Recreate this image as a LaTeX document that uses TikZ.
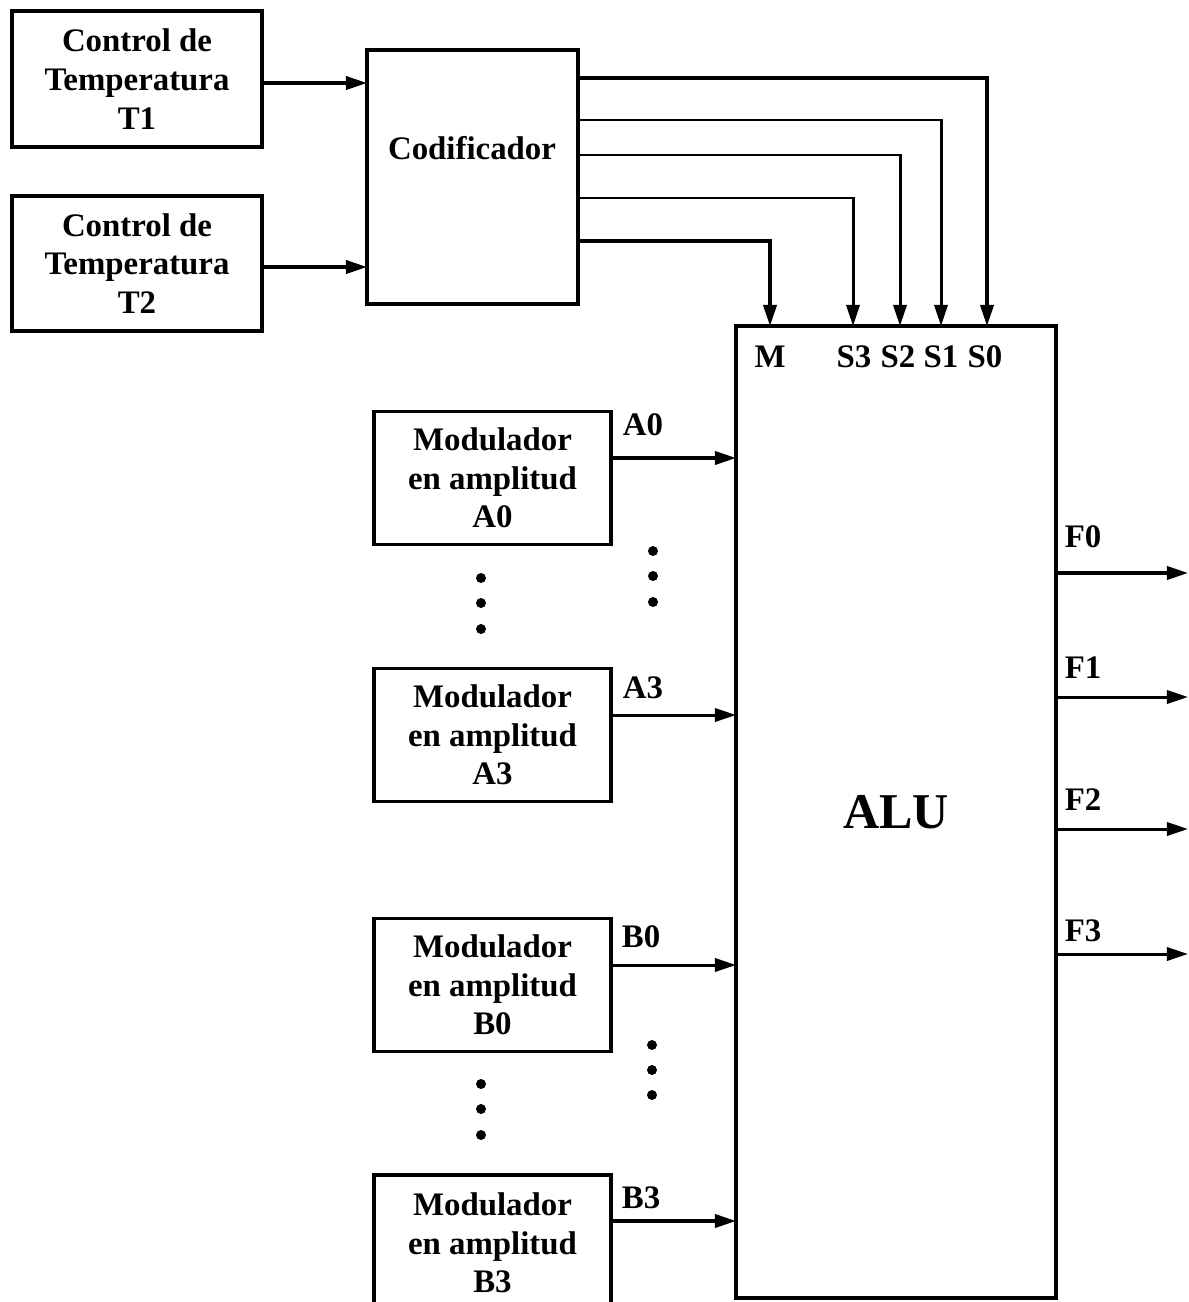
\documentclass[tikz,border=0pt]{standalone}
\usepackage{fontspec}
\setmainfont{Liberation Serif}
\usetikzlibrary{arrows.meta}
\begin{document}
\begin{tikzpicture}[x=0.02cm,y=-0.02cm,
  txt/.style={font=\fontsize{18.7}{22}\selectfont\bfseries, align=center, inner sep=0pt},
  blk/.style={draw, line width=2pt, inner sep=0pt, outer sep=0pt, txt},
  arr/.style={line width=1.9pt, -{Triangle[length=12pt,width=7.5pt]}},
  thin/.style={line width=1.7pt, -{Triangle[length=12pt,width=7.5pt]}},
  dot/.style={fill=black}]
\useasboundingbox (0,0) rectangle (1188,1302);
\clip (0,0) rectangle (1188,1302);
% blocks
\node[blk, minimum width={250*0.02cm}, minimum height={136*0.02cm}] (t1) at (137,79) {Control de\\Temperatura\\T1};
\node[blk, minimum width={250*0.02cm}, minimum height={135*0.02cm}] (t2) at (137,263.5) {Control de\\Temperatura\\T2};
\node[blk, minimum width={211*0.02cm}, minimum height={254*0.02cm}] (cod) at (472.5,177) {};
\node[txt] (codt) at (472,148) {Codificador};
\node[blk, minimum width={320*0.02cm}, minimum height={972*0.02cm}, font=\fontsize{28.5}{30}\selectfont\bfseries] (alu) at (896,812) {ALU};
\node[blk, minimum width={237*0.02cm}, minimum height={133*0.02cm}] (a0) at (492.5,478) {Modulador\\en amplitud\\A0};
\node[blk, minimum width={237*0.02cm}, minimum height={133*0.02cm}] (a3) at (492.5,735) {Modulador\\en amplitud\\A3};
\node[blk, minimum width={237*0.02cm}, minimum height={133*0.02cm}] (b0) at (492.5,985) {Modulador\\en amplitud\\B0};
\node[blk, minimum width={237*0.02cm}, minimum height={136*0.02cm}] (b3) at (492.5,1243) {Modulador\\en amplitud\\B3};
% inputs to coder
\draw[arr] (t1.east |- 0,83) -- (cod.west |- 0,83);
\draw[arr] (t2.east |- 0,267) -- (cod.west |- 0,267);
% coder to ALU
\draw[arr] (cod.east |- 0,78) -| (987,0 |- alu.north);
\draw[thin] (cod.east |- 0,120) -| (941,0 |- alu.north);
\draw[thin] (cod.east |- 0,155) -| (900,0 |- alu.north);
\draw[thin] (cod.east |- 0,198) -| (853,0 |- alu.north);
\draw[arr] (cod.east |- 0,241) -| (770,0 |- alu.north);
% ALU port labels
\node[txt] (lm) at (770,357) {M};
\node[txt] (ls3) at (854,357) {S3};
\node[txt] (ls2) at (898,357) {S2};
\node[txt] (ls1) at (941,357) {S1};
\node[txt] (ls0) at (985,357) {S0};
% modulators to ALU
\draw[arr] (a0.east |- 0,458) -- (alu.west |- 0,458);
\draw[thin] (a3.east |- 0,715) -- (alu.west |- 0,715);
\draw[thin] (b0.east |- 0,965) -- (alu.west |- 0,965);
\draw[arr] (b3.east |- 0,1221) -- (alu.west |- 0,1221);
\node[txt] (la0) at (643,425) {A0};
\node[txt] (la3) at (643,688) {A3};
\node[txt] (lb0) at (641,937) {B0};
\node[txt] (lb3) at (641,1198) {B3};
% dots
\foreach \y in {578,603,629} \fill[dot] (481,\y) circle (0.1cm);
\foreach \y in {551,576,602} \fill[dot] (653,\y) circle (0.1cm);
\foreach \y in {1084,1109,1135} \fill[dot] (481,\y) circle (0.1cm);
\foreach \y in {1045,1070,1095} \fill[dot] (652,\y) circle (0.1cm);
% outputs
\coordinate (o0) at (1188,573);
\coordinate (o1) at (1188,697);
\coordinate (o2) at (1188,829);
\coordinate (o3) at (1188,954);
\draw[arr] (alu.east |- o0) -- (o0);
\draw[thin] (alu.east |- o1) -- (o1);
\draw[thin] (alu.east |- o2) -- (o2);
\draw[thin] (alu.east |- o3) -- (o3);
\node[txt] (lf0) at (1083,537) {F0};
\node[txt] (lf1) at (1083,668) {F1};
\node[txt] (lf2) at (1083,800) {F2};
\node[txt] (lf3) at (1083,931) {F3};
\end{tikzpicture}
\end{document}
